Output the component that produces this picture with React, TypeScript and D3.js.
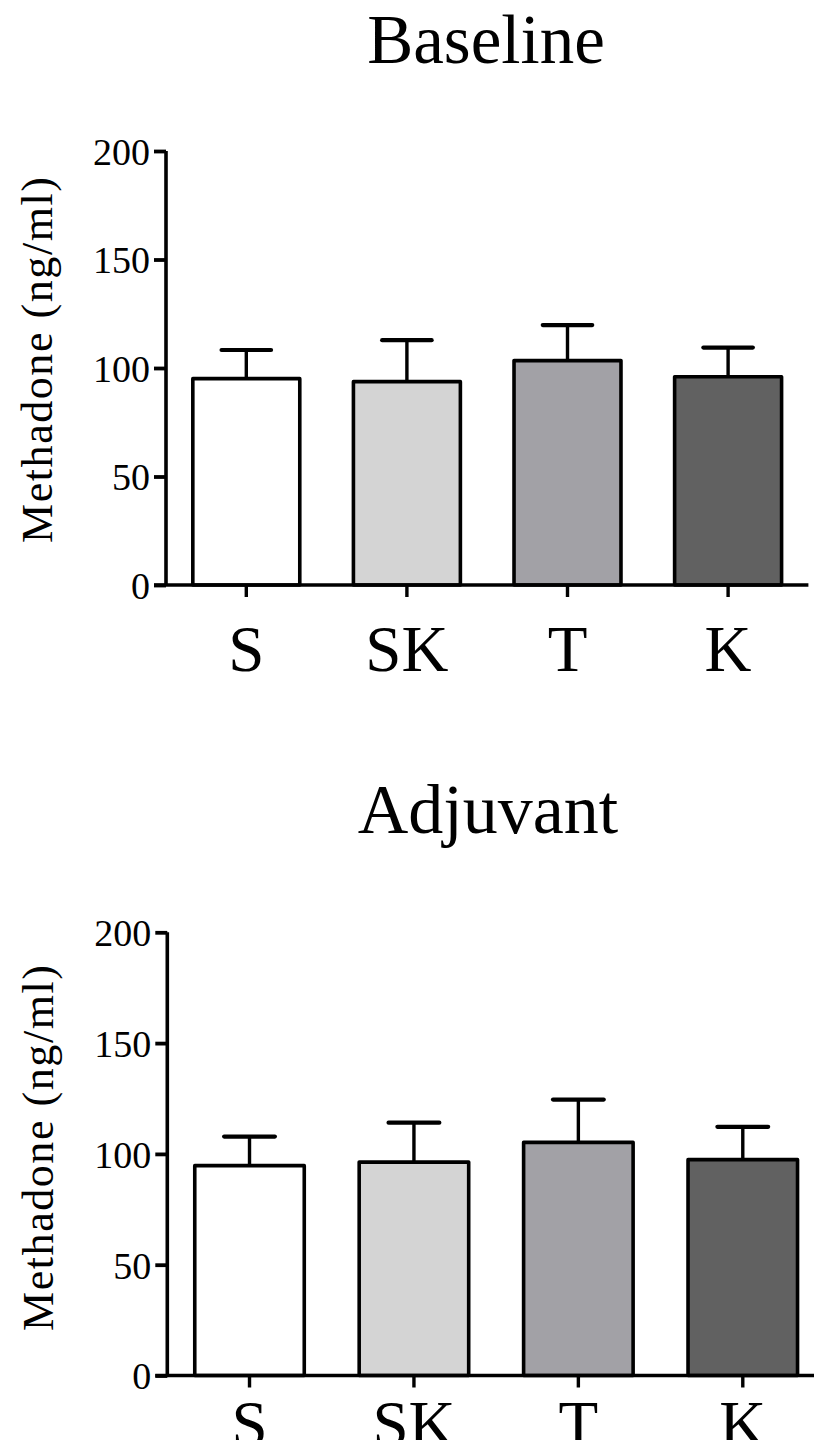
import { useEffect, useRef } from 'react';
import * as d3 from 'd3';

// groups and bar fills
const groups = ['S', 'SK', 'T', 'K'];
const fills = ['#ffffff', '#d4d4d4', '#a2a1a6', '#616161'];

// mean methadone level per group (ng/ml)
const baselineMeans = [95.1, 93.7, 103.4, 96.0];
const baselineSem = [13.2, 19.1, 16.4, 13.4];
const adjuvantMeans = [94.7, 96.3, 105.2, 97.4];
const adjuvantSem = [13.1, 17.8, 19.3, 14.8];

const yTicks = [0, 50, 100, 150, 200];

const FONT = '"Liberation Serif", "Times New Roman", serif';

// panel layout (pixels)
const panels = [
  {
    title: 'Baseline', means: baselineMeans, sem: baselineSem,
    titleX: 486, titleY: 63, titleSize: 69,
    x0: 166, x1: 808.4, y0: 585, y1: 151,
    labelY: 671, yLabelX: 52, yLabelY: 360,
  },
  {
    title: 'Adjuvant', means: adjuvantMeans, sem: adjuvantSem,
    titleX: 488, titleY: 833, titleSize: 70,
    x0: 167.3, x1: 825, y0: 1375.5, y1: 932.3,
    labelY: 1446, yLabelX: 53, yLabelY: 1148,
  },
];

const App = () => {
  const svgRef = useRef(null);

  useEffect(() => {
    const svg = d3.select(svgRef.current);
    svg.selectAll('*').remove();

    panels.forEach(p => {
      const g = svg.append('g');

      const x = d3.scaleBand()
        .domain(groups)
        .range([p.x0, p.x1])
        .paddingInner(0.334)
        .paddingOuter(0.167);

      const y = d3.scaleLinear()
        .domain([0, 200])
        .range([p.y0, p.y1]);

      // title
      g.append('text')
        .attr('x', p.titleX)
        .attr('y', p.titleY)
        .attr('text-anchor', 'middle')
        .style('font-family', FONT)
        .style('font-size', p.titleSize + 'px')
        .text(p.title);

      // y axis label
      g.append('text')
        .attr('transform', `translate(${p.yLabelX},${p.yLabelY}) rotate(-90)`)
        .attr('text-anchor', 'middle')
        .attr('textLength', 366)
        .attr('lengthAdjust', 'spacing')
        .style('font-family', FONT)
        .style('font-size', '44px')
        .text('Methadone (ng/ml)');

      // bars
      g.selectAll('rect.bar')
        .data(groups)
        .enter()
        .append('rect')
        .attr('class', 'bar')
        .attr('x', d => x(d))
        .attr('y', (d, i) => y(p.means[i]))
        .attr('width', x.bandwidth())
        .attr('height', (d, i) => y(0) - y(p.means[i]))
        .attr('fill', (d, i) => fills[i])
        .attr('stroke', '#000')
        .attr('stroke-width', 3.6)
        .attr('stroke-linejoin', 'round');

      // upper error bars
      const cx = d => x(d) + x.bandwidth() / 2;
      g.selectAll('line.err')
        .data(groups)
        .enter()
        .append('line')
        .attr('x1', cx)
        .attr('x2', cx)
        .attr('y1', (d, i) => y(p.means[i]))
        .attr('y2', (d, i) => y(p.means[i] + p.sem[i]))
        .attr('stroke', '#000')
        .attr('stroke-width', 3.4);

      g.selectAll('line.cap')
        .data(groups)
        .enter()
        .append('line')
        .attr('x1', d => cx(d) - x.bandwidth() / 4 + 2)
        .attr('x2', d => cx(d) + x.bandwidth() / 4 - 2)
        .attr('y1', (d, i) => y(p.means[i] + p.sem[i]))
        .attr('y2', (d, i) => y(p.means[i] + p.sem[i]))
        .attr('stroke', '#000')
        .attr('stroke-width', 4.2)
        .attr('stroke-linecap', 'round');

      // y axis
      const yAxis = g.append('g')
        .attr('transform', `translate(${p.x0},0)`)
        .call(d3.axisLeft(y).tickValues(yTicks).tickSize(12).tickPadding(4).tickSizeOuter(0));
      yAxis.select('.domain')
        .attr('stroke', '#000')
        .attr('stroke-width', 3.6)
        .attr('d', `M0,${p.y0}V${p.y1}`);
      yAxis.selectAll('.tick line')
        .attr('stroke', '#000')
        .attr('stroke-width', 3.8);
      yAxis.selectAll('.tick text')
        .attr('dy', '0.35em')
        .style('font-family', FONT)
        .style('font-size', '38px')
        .style('fill', '#000');

      // x axis
      const xAxis = g.append('g')
        .attr('transform', `translate(0,${p.y0})`)
        .call(d3.axisBottom(x).tickSize(12).tickSizeOuter(0).tickFormat(() => ''));
      xAxis.select('.domain')
        .attr('stroke', '#000')
        .attr('stroke-width', 3.6)
        .attr('d', `M${p.x0 - 12},0H${p.x1}`);
      xAxis.selectAll('.tick line')
        .attr('stroke', '#000')
        .attr('stroke-width', 3.4);

      // category labels
      g.selectAll('text.cat')
        .data(groups)
        .enter()
        .append('text')
        .attr('x', cx)
        .attr('y', p.labelY)
        .attr('text-anchor', 'middle')
        .style('font-family', FONT)
        .style('font-size', '65px')
        .text(d => d);
    });
  }, []);

  return (
    <svg
      ref={svgRef}
      width={814}
      height={1440}
      style={{ position: 'absolute', left: 0, top: 0, background: '#fff' }}
    />
  );
};

export default App;
